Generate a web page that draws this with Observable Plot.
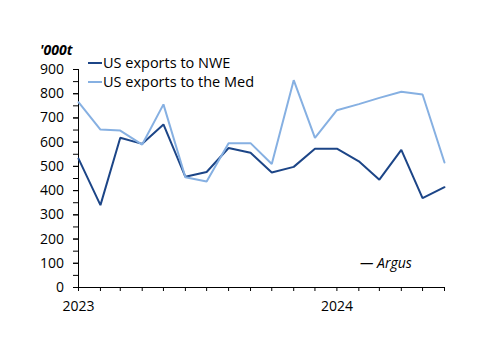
<!DOCTYPE html>
<html>
<head>
<meta charset="utf-8">
<script src="https://cdn.jsdelivr.net/npm/d3@7"></script>
<script src="https://cdn.jsdelivr.net/npm/@observablehq/plot@0.6"></script>
<style>
  body { margin: 0; background: #fff; font-family: "Open Sans", sans-serif; }
  #wrap { position: relative; width: 500px; height: 353px; }
  .ov { position: absolute; color: #000; white-space: nowrap; }
</style>
</head>
<body>
<div id="wrap"></div>
<script>
const months = ["2023-01","2023-02","2023-03","2023-04","2023-05","2023-06","2023-07","2023-08","2023-09","2023-10","2023-11","2023-12","2024-01","2024-02","2024-03","2024-04","2024-05","2024-06"];
const nwe = [532, 340, 618, 593, 673, 457, 477, 576, 556, 475, 498, 573, 573, 521, 445, 568, 369, 414];
const med = [765, 652, 648, 590, 756, 455, 438, 596, 596, 510, 856, 618, 732, 757, 783, 808, 797, 516];
const seriesNames = ["US exports to NWE", "US exports to the Med"];
const colors = ["#1c4587", "#86b0e2"];
const unitLabel = "'000t";
const sourceLabel = "— Argus";

const parse = d3.utcParse("%Y-%m");
const data = [];
months.forEach((m, i) => {
  data.push({date: parse(m), value: nwe[i], series: seriesNames[0]});
  data.push({date: parse(m), value: med[i], series: seriesNames[1]});
});

const chart = Plot.plot({
  width: 500,
  height: 353,
  marginLeft: 78,
  marginRight: 56,
  marginTop: 69,
  marginBottom: 66,
  style: {fontFamily: "Open Sans, sans-serif", fontSize: "14px", color: "#000", background: "#fff"},
  x: {type: "utc", domain: [parse(months[0]), parse(months[months.length - 1])]},
  y: {domain: [0, 900]},
  color: {domain: seriesNames, range: colors},
  marks: [
    Plot.axisY({ticks: d3.range(0, 901, 50), tickSize: 5, text: null, label: null, stroke: "#000"}),
    Plot.axisY({ticks: d3.range(0, 901, 100), tickSize: 5, tickPadding: 9.5, label: null, fill: "#000", fontSize: 14}),
    Plot.axisX({ticks: months.map(parse), tickSize: 4, tickPadding: 10, label: null, fontSize: 14,
      tickFormat: d => d.getUTCMonth() === 0 ? String(d.getUTCFullYear()) : ""}),
    Plot.ruleX([parse(months[0])], {stroke: "#000", strokeWidth: 1}),
    Plot.ruleY([0], {stroke: "#000", strokeWidth: 1}),
    Plot.line(data, {x: "date", y: "value", z: "series", stroke: "series", strokeWidth: 2, strokeLinejoin: "miter"})
  ]
});

const wrap = document.getElementById("wrap");
wrap.appendChild(chart);

// unit label
const u = document.createElement("div");
u.className = "ov";
u.textContent = unitLabel;
u.style.cssText += "left:40px;top:40px;font-size:14px;font-weight:bold;font-style:italic;";
wrap.appendChild(u);

// legend
seriesNames.forEach((name, i) => {
  const row = document.createElement("div");
  row.className = "ov";
  row.style.cssText += `left:88px;top:${54 + i * 19}px;height:18px;font-size:14.5px;line-height:18px;display:flex;align-items:center;`;
  row.innerHTML = `<svg width="14" height="4" style="margin-right:1px"><line x1="0" x2="14" y1="2" y2="2" stroke="${colors[i]}" stroke-width="2"/></svg><span>${name}</span>`;
  wrap.appendChild(row);
});

// source
const s = document.createElement("div");
s.className = "ov";
s.textContent = sourceLabel;
s.style.cssText += "left:360px;top:253px;font-size:14px;font-style:italic;";
wrap.appendChild(s);
</script>
</body>
</html>
